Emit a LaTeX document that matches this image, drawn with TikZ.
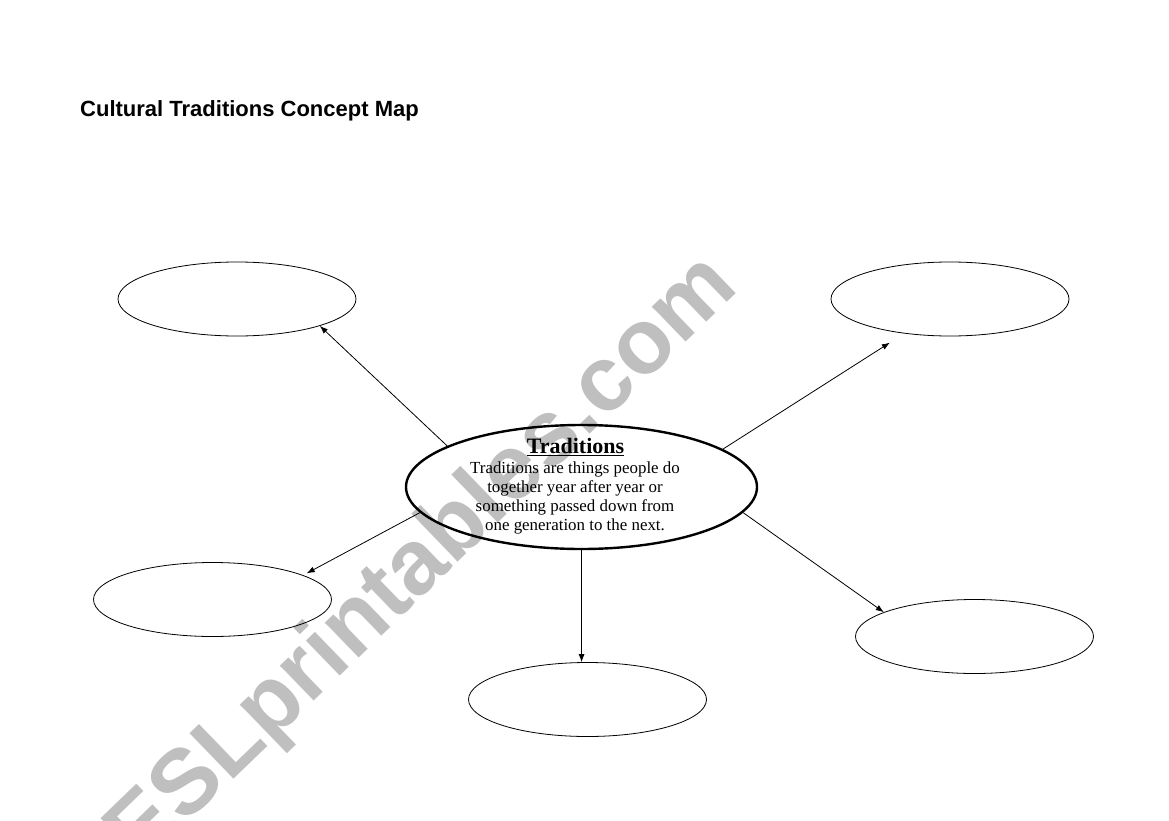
\documentclass[tikz,border=0pt]{standalone}
\usepackage{fontspec}
\setmainfont{Liberation Serif}
\newfontfamily\arialfont{Liberation Sans}
\usetikzlibrary{shapes.geometric,arrows.meta}
\tikzset{
  bubble/.style={ellipse,draw=black,line width=0.8pt,minimum width=238pt,minimum height=74pt,inner sep=0pt},
  hub/.style={ellipse,draw=black,line width=2.4pt,minimum width=351pt,minimum height=124pt,inner sep=0pt},
  link/.style={line width=0.8pt,-{Latex[length=8pt,width=6pt]}},
  watermark/.style={text=black!25,font=\arialfont\bfseries\fontsize{92}{92}\selectfont,rotate=44,inner sep=0pt}
}
\begin{document}
\begin{tikzpicture}[x=1pt,y=-1pt]
\fill[white] (0,0) rectangle (1169,821);
\clip (0,0) rectangle (1169,821);
\node[watermark] (wm) at (424,562) {ESLprintables.com};
\node[anchor=west,inner sep=0pt,font=\arialfont\bfseries\fontsize{22}{24}\selectfont] (title) at (80,111) {Cultural Traditions Concept Map};
\node[hub] (c) at (581.5,487) {};
\node[inner sep=0pt,font=\bfseries\fontsize{22}{24}\selectfont] (ctitle) at (575.5,447) {\underline{Traditions}};
\node[inner sep=0pt,align=center,font=\fontsize{16.9}{19.3}\selectfont] (ctext) at (575,498) {Traditions are things people do\\together year after year or\\something passed down from\\one generation to the next.};
\node[bubble] (tl) at (237,299) {};
\node[bubble] (tr) at (950,299) {};
\node[bubble] (l) at (212.5,599.5) {};
\node[bubble] (b) at (587.5,699.5) {};
\node[bubble] (r) at (974.5,636.5) {};
\draw[link] (c.163.9) -- (tl.342.3);
\draw[link,shorten >=17pt] (c.15.9) -- (tr.217.3);
\draw[link,shorten >=4pt] (c.189) -- (l.15.7);
\draw[link] (c.270) -- (b.99.8);
\draw[link] (c.351.2) -- (r.165.2);
\end{tikzpicture}
\end{document}
